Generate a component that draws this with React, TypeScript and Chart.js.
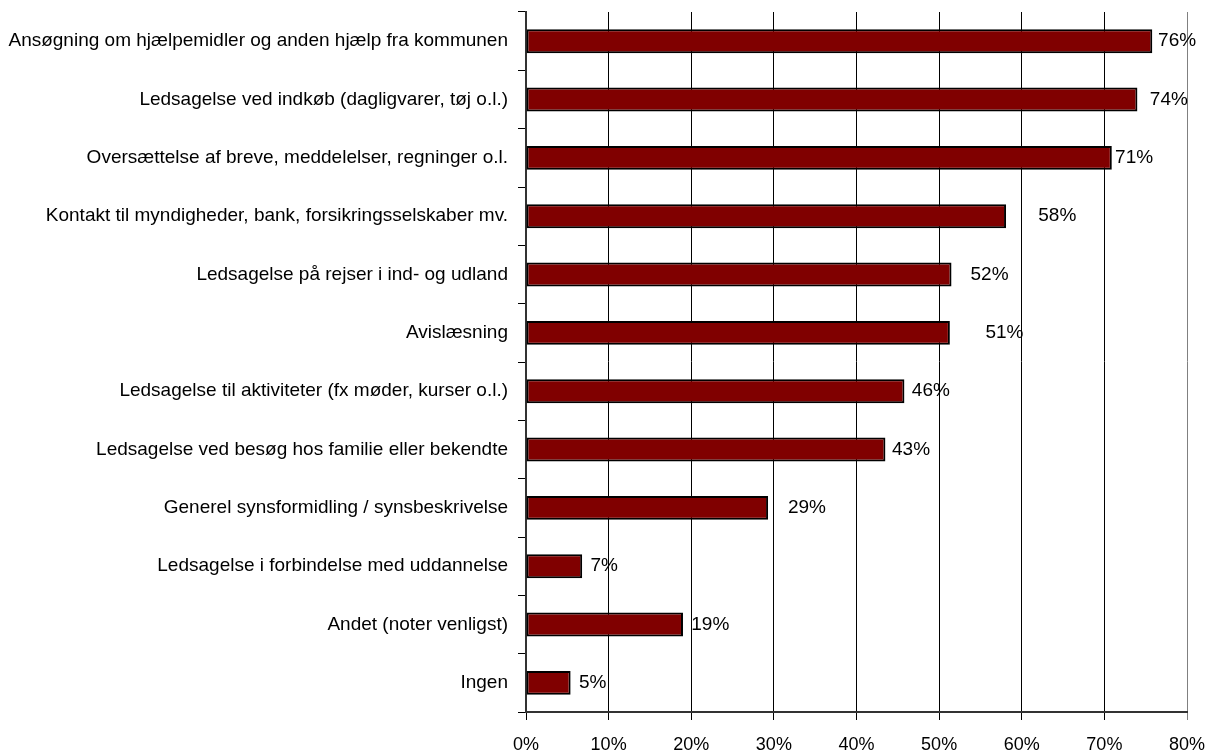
import React, { useEffect, useRef } from "react";
import { Chart, registerables } from "chart.js";

Chart.register(...registerables);

const categories: string[] = [
  "Ansøgning om hjælpemidler og anden hjælp fra kommunen",
  "Ledsagelse ved indkøb (dagligvarer, tøj o.l.)",
  "Oversættelse af breve, meddelelser, regninger o.l.",
  "Kontakt til myndigheder, bank, forsikringsselskaber mv.",
  "Ledsagelse på rejser i ind- og udland",
  "Avislæsning",
  "Ledsagelse til aktiviteter (fx møder, kurser o.l.)",
  "Ledsagelse ved besøg hos familie eller bekendte",
  "Generel synsformidling / synsbeskrivelse",
  "Ledsagelse i forbindelse med uddannelse",
  "Andet (noter venligst)",
  "Ingen",
];

const values: number[] = [75.8, 74.0, 70.9, 58.1, 51.5, 51.3, 45.8, 43.5, 29.3, 6.8, 19.0, 5.4];
const valueLabels: string[] = ["76%", "74%", "71%", "58%", "52%", "51%", "46%", "43%", "29%", "7%", "19%", "5%"];
// where each value label starts, in axis units (as placed in the original)
const labelPositions: number[] = [76.5, 75.5, 71.3, 62.0, 53.8, 55.6, 46.7, 44.3, 31.7, 7.8, 20.0, 6.4];
const xTicks: number[] = [0, 10, 20, 30, 40, 50, 60, 70, 80];

const FONT = "'Liberation Sans', Arial, sans-serif";

const valueLabelPlugin = {
  id: "valueLabels",
  afterDatasetsDraw(chart: any) {
    const { ctx } = chart;
    const meta = chart.getDatasetMeta(0);
    const xs = chart.scales.x;
    ctx.save();
    ctx.font = `19px ${FONT}`;
    ctx.fillStyle = "#000";
    ctx.textAlign = "left";
    ctx.textBaseline = "middle";
    meta.data.forEach((bar: any, i: number) => {
      ctx.fillText(valueLabels[i], xs.getPixelForValue(labelPositions[i]), bar.y);
    });
    ctx.restore();
  },
};

export default function App() {
  const ref = useRef<HTMLCanvasElement | null>(null);
  useEffect(() => {
    document.body.style.margin = "0";
    if (!ref.current) return;
    const chart = new Chart(ref.current, {
      type: "bar",
      data: {
        labels: categories,
        datasets: [
          {
            data: values,
            backgroundColor: "#800000",
            borderColor: "#000000",
            borderWidth: 2,
            borderSkipped: false,
            barPercentage: 0.41,
            categoryPercentage: 1,
          },
        ],
      },
      options: {
        indexAxis: "y",
        animation: false,
        responsive: false,
        maintainAspectRatio: false,
        layout: { padding: { top: 12, right: 21, left: 0, bottom: 0 } },
        plugins: { legend: { display: false }, tooltip: { enabled: false } },
        scales: {
          x: {
            type: "linear",
            min: 0,
            max: 80,
            afterBuildTicks: (scale: any) => {
              scale.ticks = xTicks.map((v) => ({ value: v }));
            },
            afterFit: (scale: any) => {
              scale.height = 41;
              scale.paddingLeft = 0;
              scale.paddingRight = 0;
            },
            ticks: {
              callback: (v: any) => `${v}%`,
              color: "#000",
              font: { family: FONT, size: 18 },
              padding: 14,
              maxRotation: 0,
            },
            grid: {
              color: (c: any) => (c.index === 8 ? "#808080" : "#000000"),
              lineWidth: 1,
              tickLength: 8,
              drawTicks: true,
            },
            border: { color: "#333333", width: 2 },
          },
          y: {
            type: "category",
            afterFit: (scale: any) => {
              scale.width = 526;
              scale.paddingTop = 0;
              scale.paddingBottom = 0;
            },
            ticks: {
              color: "#000",
              font: { family: FONT, size: 19 },
              padding: 10,
              autoSkip: false,
            },
            grid: {
              offset: true,
              drawOnChartArea: false,
              drawTicks: true,
              tickLength: 8,
              color: "#000",
            },
            border: { color: "#333333", width: 2 },
          },
        },
      },
      plugins: [valueLabelPlugin],
    });
    return () => chart.destroy();
  }, []);
  return (
    <div style={{ position: "absolute", left: 0, top: 0, width: 1208, height: 753 }}>
      <canvas ref={ref} width={1208} height={753} />
    </div>
  );
}
